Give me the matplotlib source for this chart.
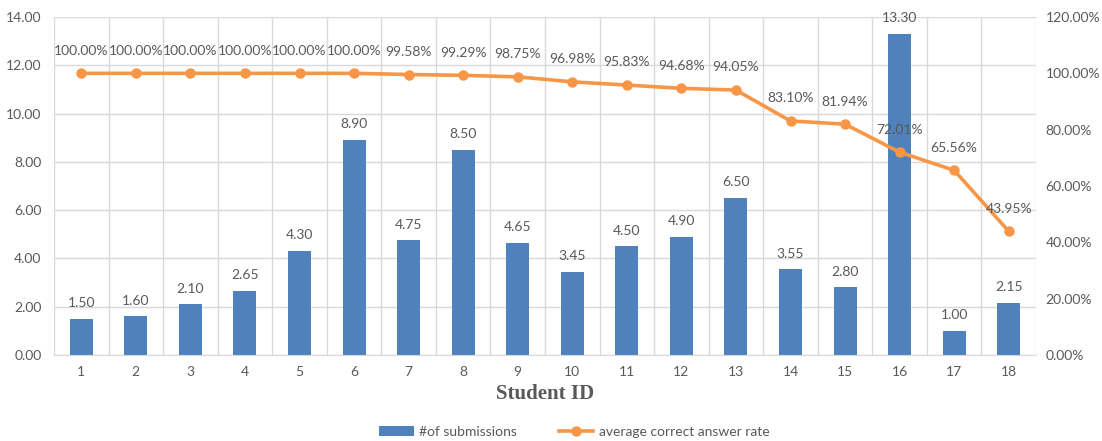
import matplotlib
matplotlib.use("Agg")
import matplotlib.pyplot as plt
from matplotlib.ticker import FuncFormatter, MultipleLocator
import numpy as np

students = [str(i) for i in range(1, 19)]
submissions = [1.50, 1.60, 2.10, 2.65, 4.30, 8.90, 4.75, 8.50, 4.65, 3.45,
               4.50, 4.90, 6.50, 3.55, 2.80, 13.30, 1.00, 2.15]
correct_rate = [100.00, 100.00, 100.00, 100.00, 100.00, 100.00, 99.58, 99.29, 98.75,
                96.98, 95.83, 94.68, 94.05, 83.10, 81.94, 72.01, 65.56, 43.95]

BAR = "#4F81BD"
LINE = "#F79646"
TXT = "#595959"
GRID = "#D9D9D9"
FS = 10
plt.rcParams['font.family'] = ['Lato', 'DejaVu Sans']

fig = plt.figure(figsize=(11.02, 4.41), dpi=100)
ax = fig.add_axes([54/1102, 1-355/441, (1036-54)/1102, (355-17)/441])
ax2 = ax.twinx()

x = np.arange(len(students))
bars = ax.bar(x, submissions, width=0.42, color=BAR, zorder=2, label="#of submissions")
ax.set_ylim(0, 14)
ax.set_xlim(-0.5, len(students) - 0.5)
ax.yaxis.set_major_locator(MultipleLocator(2))
ax.yaxis.set_major_formatter(FuncFormatter(lambda v, p: f"{v:.2f}"))
ax.set_xticks(x)
ax.set_xticklabels(students)
ax.set_xticks(np.arange(-0.5, len(students), 1), minor=True)
ax.grid(True, axis='y', color=GRID, linewidth=1, zorder=0)
ax.grid(True, axis='x', which='minor', color=GRID, linewidth=1, zorder=0)
ax.tick_params(axis='both', which='both', length=0, labelsize=FS, labelcolor=TXT, pad=9)
ax.tick_params(axis='x', pad=8)
for s in ax.spines.values():
    s.set_visible(False)
ax.spines['bottom'].set_visible(True)
ax.spines['bottom'].set_color(GRID)
ax.set_axisbelow(True)

for xi, v in zip(x, submissions):
    ax.annotate(f"{v:.2f}", (xi, v), xytext=(0, 7), textcoords='offset points',
                ha='center', va='bottom', fontsize=FS, color=TXT)

line, = ax2.plot(x, correct_rate, color=LINE, linewidth=2.6, marker='o', markersize=6.5,
                 zorder=3, label="average correct answer rate")
ax2.set_ylim(0, 120)
ax2.yaxis.set_major_locator(MultipleLocator(20))
ax2.yaxis.set_major_formatter(FuncFormatter(lambda v, p: f"{v:.2f}%"))
ax2.tick_params(axis='y', length=0, labelsize=FS, labelcolor=TXT, pad=7)
for s in ax2.spines.values():
    s.set_visible(False)
for xi, v in zip(x, correct_rate):
    ax2.annotate(f"{v:.2f}%", (xi, v), xytext=(0, 12), textcoords='offset points',
                 ha='center', va='bottom', fontsize=FS, color=TXT)

ax.set_xlabel("Student ID", fontsize=15, fontweight='bold', color=TXT,
              family=['Liberation Serif', 'DejaVu Serif'], labelpad=4)

fig.legend([bars, line], ["#of submissions", "average correct answer rate"],
           loc='lower center', bbox_to_anchor=(0.521, -0.022), ncol=2, frameon=False,
           fontsize=FS, labelcolor=TXT, handlelength=2.5, handletextpad=0.4,
           columnspacing=3.0)

fig.savefig("out.png", dpi=100)
